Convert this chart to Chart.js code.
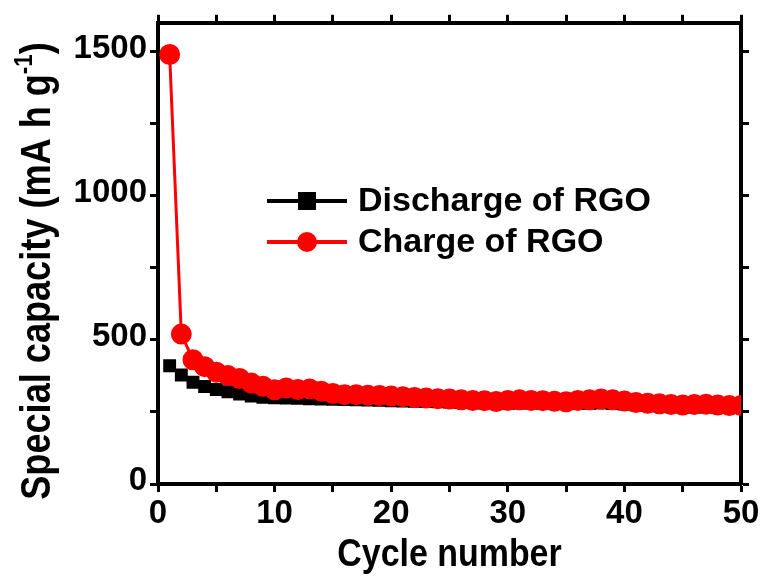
<!DOCTYPE html>
<html>
<head>
<meta charset="utf-8">
<script src="https://cdn.jsdelivr.net/npm/chart.js@4.4.0/dist/chart.umd.min.js"></script>
<style>
  html, body { margin: 0; padding: 0; background: #fff; }
</style>
</head>
<body>
<canvas id="chart" width="763" height="583"></canvas>
<script>
// cycle numbers 1..50
var cycles = [1,2,3,4,5,6,7,8,9,10,11,12,13,14,15,16,17,18,19,20,21,22,23,24,25,
              26,27,28,29,30,31,32,33,34,35,36,37,38,39,40,41,42,43,44,45,46,47,48,49,50]

var discharge = [410,378,353,338,328,320,312,305,301,299,298,297,296,295,294,293,292,291,290,289,
                 288,287,286,285,284,283,282,281,280,280,281,281,280,279,278,279,280,281,279,277,
                 274,272,270,268,267,267,267,266,265,265]

var charge = [1490,520,431,407,388,376,366,350,339,327,333,328,330,322,314,310,310,308,307,305,
              303,300,298,296,295,292,290,289,286,290,292,290,289,287,285,290,292,295,292,288,
              283,280,278,276,274,276,277,274,272,272]

var xTicks = [0,5,10,15,20,25,30,35,40,45,50]
var yTicks = [0,250,500,750,1000,1250,1500]

var xLabel = 'Cycle number'
var yLabel = ['Special capacity (mA h g', '-1', ')']

var FONT = "'Liberation Sans', Arial, sans-serif"

function toPoints(ys){
    var pts = []
    for(var i in ys){
        pts.push({x: cycles[i], y: ys[i]})
    }
    return pts
}

function setTicks(list){
    return function(scale){
        scale.ticks = list.map(function(v){ return {value: v} })
    }
}

// legend drawn inside the plot, line + marker + text
var innerLegend = {
    id: 'innerLegend',
    afterDatasetsDraw: function(chart){
        var ctx = chart.ctx
        var rows = [
            {ds: chart.data.datasets[0], y: 201},
            {ds: chart.data.datasets[1], y: 242}
        ]
        ctx.save()
        rows.forEach(function(r){
            ctx.strokeStyle = r.ds.borderColor
            ctx.fillStyle = r.ds.borderColor
            ctx.lineWidth = 4
            ctx.beginPath()
            ctx.moveTo(267, r.y)
            ctx.lineTo(347, r.y)
            ctx.stroke()
            if(r.ds.pointStyle === 'rect'){
                ctx.fillRect(307 - 9, r.y - 9, 18, 18)
            }else{
                ctx.beginPath()
                ctx.arc(307, r.y, 10, 0, Math.PI * 2)
                ctx.fill()
            }
            ctx.fillStyle = '#000'
            ctx.font = 'bold 34px ' + FONT
            ctx.textBaseline = 'middle'
            ctx.textAlign = 'left'
            ctx.fillText(r.ds.label, 358, r.y + 1)
        })
        ctx.restore()
    }
}

// axis titles: narrow-looking bold text, y one with a real superscript
var axisTitles = {
    id: 'axisTitles',
    afterDraw: function(chart){
        var ctx = chart.ctx
        var area = chart.chartArea
        ctx.save()
        ctx.fillStyle = '#000'
        ctx.textBaseline = 'alphabetic'
        ctx.textAlign = 'left'

        // x title
        ctx.font = 'bold 39px ' + FONT
        var wx = ctx.measureText(xLabel).width
        ctx.save()
        ctx.translate((area.left + area.right) / 2, 566)
        ctx.scale(0.87, 1)
        ctx.fillText(xLabel, -wx / 2, 0)
        ctx.restore()

        // y title
        var main = 'bold 42px ' + FONT
        var sup = 'bold 26px ' + FONT
        ctx.font = main
        var w1 = ctx.measureText(yLabel[0]).width
        var w3 = ctx.measureText(yLabel[2]).width
        ctx.font = sup
        var w2 = ctx.measureText(yLabel[1]).width
        var total = w1 + w2 + w3
        ctx.translate(50, 271)
        ctx.rotate(-Math.PI / 2)
        ctx.scale(0.86, 1)
        var x = -total / 2
        ctx.font = main
        ctx.fillText(yLabel[0], x, 0)
        x += w1
        ctx.font = sup
        ctx.fillText(yLabel[1], x, -18)
        x += w2
        ctx.font = main
        ctx.fillText(yLabel[2], x, 0)
        ctx.restore()
    }
}

var axisGrid = {
    drawOnChartArea: false,
    drawTicks: true,
    tickLength: 8,
    color: '#000',
    tickColor: '#000',
    tickWidth: 3
}

const myChart = new Chart(document.getElementById("chart"), {
    type: 'line',
    data: {
        datasets: [{
            label: 'Discharge of RGO',
            data: toPoints(discharge),
            borderColor: '#000',
            backgroundColor: '#000',
            borderWidth: 3,
            pointStyle: 'rect',
            pointRadius: 7,
            pointHoverRadius: 7,
            order: 2
        }, {
            label: 'Charge of RGO',
            data: toPoints(charge),
            borderColor: '#ff0000',
            backgroundColor: '#ff0000',
            borderWidth: 3,
            pointStyle: 'circle',
            pointRadius: 9,
            pointHoverRadius: 9,
            order: 1
        }]
    },
    options: {
        responsive: false,
        animation: false,
        devicePixelRatio: 1,
        layout: { padding: 0 },
        plugins: {
            legend: { display: false },
            tooltip: { enabled: false }
        },
        scales: {
            x: {
                type: 'linear',
                position: 'bottom',
                min: 0, max: 50,
                afterBuildTicks: setTicks(xTicks),
                afterFit: function(s){ s.height = 99 },
                grid: axisGrid,
                border: { display: true, width: 4, color: '#000' },
                ticks: {
                    color: '#000',
                    padding: 2,
                    maxRotation: 0,
                    autoSkip: false,
                    font: { family: FONT, size: 33, weight: 'bold' },
                    callback: function(v){ return v % 10 === 0 ? v : '' }
                }
            },
            x2: {
                type: 'linear',
                position: 'top',
                min: 0, max: 50,
                afterBuildTicks: setTicks(xTicks),
                afterFit: function(s){ s.height = 17 },
                grid: axisGrid,
                border: { display: true, width: 4, color: '#000' },
                ticks: { display: false }
            },
            y: {
                type: 'linear',
                position: 'left',
                min: 0, max: 1600,
                afterBuildTicks: setTicks(yTicks),
                afterFit: function(s){ s.width = 158 },
                grid: axisGrid,
                border: { display: true, width: 4, color: '#000' },
                ticks: {
                    color: '#000',
                    padding: 3,
                    labelOffset: -3,
                    autoSkip: false,
                    font: { family: FONT, size: 33, weight: 'bold' },
                    callback: function(v){ return v % 500 === 0 ? v : '' }
                }
            },
            y2: {
                type: 'linear',
                position: 'right',
                min: 0, max: 1600,
                afterBuildTicks: setTicks(yTicks),
                afterFit: function(s){ s.width = 22 },
                grid: axisGrid,
                border: { display: true, width: 4, color: '#000' },
                ticks: { display: false }
            }
        }
    },
    plugins: [innerLegend, axisTitles]
});
</script>
</body>
</html>
